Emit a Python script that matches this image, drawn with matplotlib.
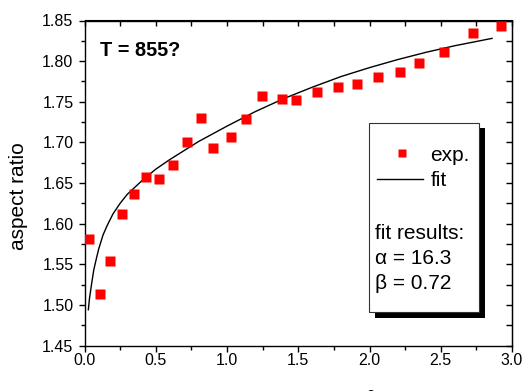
import matplotlib
matplotlib.use("Agg")
import matplotlib.pyplot as plt
from matplotlib.lines import Line2D
from matplotlib.patches import Rectangle
from matplotlib.ticker import MultipleLocator, FormatStrFormatter

plt.rcParams['font.family'] = ['Liberation Sans', 'DejaVu Sans']
plt.rcParams['mathtext.fontset'] = 'custom'
plt.rcParams['mathtext.rm'] = 'Liberation Sans'
plt.rcParams['mathtext.it'] = 'Liberation Sans:italic'
plt.rcParams['mathtext.bf'] = 'Liberation Sans:bold'

# measured aspect ratios
x_exp = [0.033, 0.106, 0.179, 0.261, 0.348, 0.433, 0.524, 0.619, 0.720, 0.821,
         0.905, 1.025, 1.131, 1.247, 1.383, 1.484, 1.630, 1.776, 1.912, 2.058,
         2.211, 2.348, 2.524, 2.724, 2.920]
y_exp = [1.581, 1.513, 1.554, 1.612, 1.637, 1.658, 1.655, 1.672, 1.700, 1.730,
         1.693, 1.707, 1.729, 1.757, 1.753, 1.752, 1.762, 1.768, 1.772, 1.781,
         1.787, 1.798, 1.811, 1.835, 1.843]

# fitted curve
x_fit = [0.027, 0.035, 0.05, 0.065, 0.086, 0.1, 0.13, 0.16, 0.2, 0.25, 0.3,
         0.41, 0.5, 0.6, 0.8, 1.0, 1.2, 1.4, 1.6, 1.8, 2.0, 2.2, 2.4, 2.6, 2.86]
y_fit = [1.494, 1.508, 1.526, 1.543, 1.559, 1.569, 1.586, 1.598, 1.612, 1.625,
         1.636, 1.654, 1.667, 1.679, 1.701, 1.720, 1.738, 1.754, 1.768, 1.781,
         1.792, 1.802, 1.811, 1.819, 1.828]

fit_alpha = 16.3
fit_beta = 0.72

W, H = 527, 391
fig = plt.figure(figsize=(W / 100, H / 100), dpi=100)


def fx(px):
    return px / W


def fy(py):
    return 1 - py / H


ax = fig.add_axes([fx(84.5), fy(345.5), fx(512) - fx(84.5), fy(20.5) - fy(345.5)])

ax.plot(x_fit, y_fit, color='black', lw=1.0, zorder=2)
ax.plot(x_exp, y_exp, ls='none', marker='s', ms=7.9, mfc='#ff0000', mec='none', zorder=3)

ax.set_xlim(0, 3.0)
ax.set_ylim(1.45, 1.85)
ax.xaxis.set_major_locator(MultipleLocator(0.5))
ax.xaxis.set_minor_locator(MultipleLocator(0.25))
ax.yaxis.set_major_locator(MultipleLocator(0.05))
ax.yaxis.set_minor_locator(MultipleLocator(0.025))
ax.xaxis.set_major_formatter(FormatStrFormatter('%.1f'))
ax.yaxis.set_major_formatter(FormatStrFormatter('%.2f'))

for s in ax.spines.values():
    s.set_linewidth(1.0)

ax.tick_params(axis='both', which='both', labelsize=11.5, width=1.0)
ax.tick_params(axis='x', which='major', direction='out', length=4.5, pad=1.0)
ax.tick_params(axis='x', which='minor', direction='out', length=3.0)
ax.tick_params(axis='y', which='major', direction='out', length=4.5, pad=3.5)
ax.tick_params(axis='y', which='minor', direction='out', length=3.0)

# mirrored inward ticks on top and right
axt = ax.secondary_xaxis('top')
axt.xaxis.set_major_locator(MultipleLocator(0.5))
axt.xaxis.set_minor_locator(MultipleLocator(0.25))
axt.tick_params(which='both', direction='in', length=4.0, width=1.0, labeltop=False)
axr = ax.secondary_yaxis('right')
axr.yaxis.set_major_locator(MultipleLocator(0.05))
axr.yaxis.set_minor_locator(MultipleLocator(0.025))
axr.tick_params(which='both', direction='in', length=4.0, width=1.0, labelright=False)

fig.text(fx(19), fy(196.5), 'aspect ratio', rotation=90, ha='center', va='center', fontsize=15)
# x-axis title sits at the lower page edge; only its raised exponent reaches into view
fig.text(fx(298), fy(407.5), r'fluence (ions/nm$^{2}$)', ha='center', va='baseline', fontsize=15)

fig.text(fx(100), fy(56), 'T = 855?', fontsize=14.3, fontweight='bold', va='baseline')

# legend panel with drop shadow
fig.add_artist(Rectangle((fx(374.5), fy(317.5)), fx(484.5) - fx(374.5), fy(128) - fy(317.5),
                         transform=fig.transFigure, facecolor='black', edgecolor='none', zorder=5))
fig.add_artist(Rectangle((fx(369), fy(311.7)), fx(479) - fx(369), fy(123.3) - fy(311.7),
                         transform=fig.transFigure, facecolor='white', edgecolor='#333333',
                         lw=0.8, zorder=6))
fig.add_artist(Line2D([fx(401.5)], [fy(153.5)], marker='s', ms=6.1, mfc='#ff0000', mec='none',
                      ls='none', transform=fig.transFigure, zorder=7))
fig.add_artist(Line2D([fx(377), fx(423)], [fy(179.3), fy(179.3)], color='black', lw=1.0,
                      transform=fig.transFigure, zorder=7))
fig.text(fx(430), fy(160.7), 'exp.', fontsize=15, va='baseline', zorder=8)
fig.text(fx(430.5), fy(186), 'fit', fontsize=15, va='baseline', zorder=8)
fig.text(fx(375), fy(239.3), 'fit results:', fontsize=15, va='baseline', zorder=8)
fig.text(fx(375), fy(264), f'α = {fit_alpha}', fontsize=15, va='baseline', zorder=8)
fig.text(fx(375), fy(289.3), f'β = {fit_beta}', fontsize=15, va='baseline', zorder=8)

fig.savefig('out.png', dpi=100)
